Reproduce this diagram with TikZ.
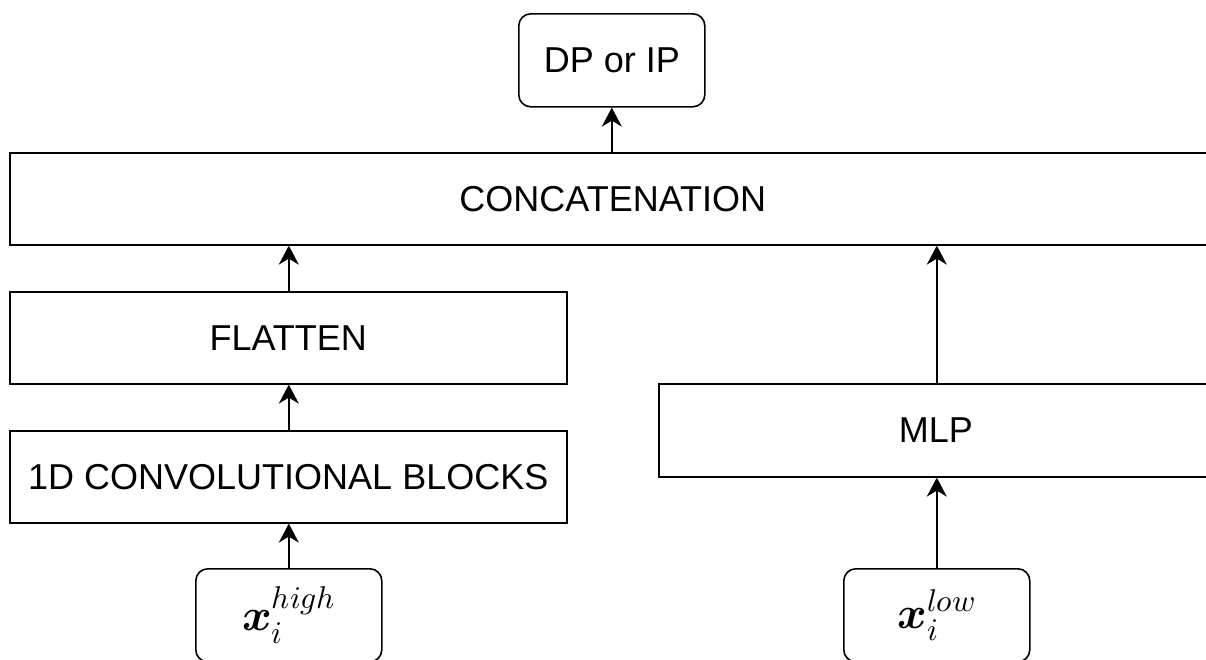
\documentclass[tikz,border=0pt]{standalone}
\usepackage{fontspec}
\usepackage{unicode-math}
\setmainfont{Liberation Sans}
\setmathfont{Latin Modern Math}
\usetikzlibrary{arrows.meta}
\begin{document}
\begin{tikzpicture}[x=1pt,y=1pt,
  box/.style={draw=black, line width=1.6pt, fill=white, inner sep=0pt, anchor=north west,
    font=\fontsize{36}{43}\selectfont},
  rbox/.style={box, rounded corners=12pt},
  mathtxt/.style={font=\fontsize{45}{54}\selectfont},
  arr/.style={line width=1.6pt, -{Stealth[length=19pt,width=20pt,inset=6pt]}}]
\useasboundingbox[clip] (0,0) rectangle (1206,-659);
\fill[white] (0,0) rectangle (1206,-659);
\node[rbox, minimum width=186, minimum height=93] (dp) at (518,-13) {DP or IP};
\node[box, minimum width=1206, minimum height=92] (cat) at (9,-152) {CONCATENATION};
\node[box, minimum width=557, minimum height=92] (fl) at (9,-291) {FLATTEN};
\node[box, minimum width=557, minimum height=92] (conv) at (9,-430) {1D CONVOLUTIONAL BLOCKS};
\node[box, minimum width=554, minimum height=93] (mlp) at (658,-383) {MLP};
\node[rbox, mathtxt, minimum width=186, minimum height=93] (xh) at (195,-568) {$\symbfit{x}_{i}^{high}$};
\node[rbox, mathtxt, minimum width=186, minimum height=93] (xl) at (843,-568) {$\symbfit{x}_{i}^{low}$};
\draw[arr] (cat.north -| dp.south) -- (dp.south);
\draw[arr] (xh.north |- fl.north) -- (xh.north |- cat.south);
\draw[arr] (xh.north |- conv.north) -- (xh.north |- fl.south);
\draw[arr] (xh.north) -- (xh.north |- conv.south);
\draw[arr] (xl.north |- mlp.north) -- (xl.north |- cat.south);
\draw[arr] (xl.north) -- (xl.north |- mlp.south);
\end{tikzpicture}
\end{document}
